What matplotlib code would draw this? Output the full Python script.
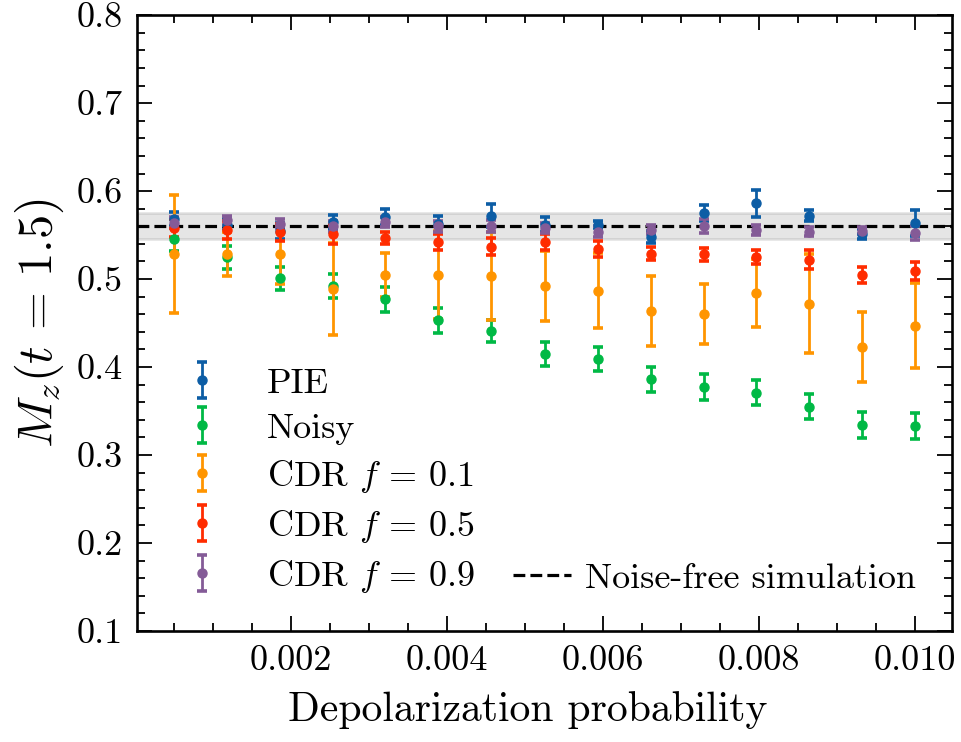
import matplotlib
matplotlib.use("Agg")
import matplotlib.pyplot as plt
from matplotlib.ticker import MultipleLocator, FormatStrFormatter

plt.rcParams['font.family'] = 'serif'
plt.rcParams['font.serif'] = ['cmr10']
plt.rcParams['mathtext.fontset'] = 'cm'
plt.rcParams['axes.formatter.use_mathtext'] = True
plt.rcParams['axes.unicode_minus'] = False

# Data
p_depol = [0.0005, 0.00118, 0.00186, 0.00254, 0.00321, 0.00389, 0.00457, 0.00525,
           0.00593, 0.00661, 0.00729, 0.00796, 0.00864, 0.00932, 0.0100]

pie = [0.568, 0.562, 0.555, 0.565, 0.571, 0.563, 0.572, 0.562, 0.562, 0.548, 0.575, 0.586, 0.572, 0.551, 0.564]
pie_err = [0.008, 0.006, 0.009, 0.008, 0.009, 0.009, 0.013, 0.009, 0.004, 0.007, 0.009, 0.015, 0.006, 0.006, 0.015]

noisy = [0.545, 0.525, 0.501, 0.492, 0.477, 0.453, 0.441, 0.415, 0.409, 0.386, 0.377, 0.371, 0.355, 0.334, 0.333]
noisy_err = [0.013, 0.013, 0.013, 0.0135, 0.014, 0.014, 0.013, 0.014, 0.014, 0.014, 0.015, 0.0145, 0.0145, 0.0145, 0.0145]

cdr01 = [0.529, 0.529, 0.528, 0.489, 0.505, 0.505, 0.503, 0.492, 0.487, 0.464, 0.460, 0.484, 0.472, 0.423, 0.447]
cdr01_err = [0.067, 0.025, 0.034, 0.052, 0.025, 0.050, 0.050, 0.040, 0.043, 0.040, 0.034, 0.039, 0.056, 0.040, 0.048]

cdr05 = [0.558, 0.556, 0.553, 0.551, 0.547, 0.542, 0.537, 0.542, 0.534, 0.529, 0.528, 0.525, 0.522, 0.505, 0.509]
cdr05_err = [0.010, 0.010, 0.010, 0.011, 0.007, 0.009, 0.010, 0.009, 0.009, 0.007, 0.007, 0.008, 0.011, 0.009, 0.010]

cdr09 = [0.564, 0.567, 0.563, 0.560, 0.565, 0.560, 0.560, 0.558, 0.554, 0.556, 0.560, 0.556, 0.554, 0.555, 0.552]
cdr09_err = [0.006, 0.005, 0.005, 0.006, 0.006, 0.006, 0.007, 0.006, 0.006, 0.005, 0.008, 0.006, 0.005, 0.004, 0.008]

noise_free = 0.560
noise_free_err = 0.015

series = [
    ("PIE", pie, pie_err, '#0C5DA5'),
    ("Noisy", noisy, noisy_err, '#00B945'),
    (r"CDR $f\,=\,0.1$", cdr01, cdr01_err, '#FF9500'),
    (r"CDR $f\,=\,0.5$", cdr05, cdr05_err, '#FF2C00'),
    (r"CDR $f\,=\,0.9$", cdr09, cdr09_err, '#845B97'),
]

fig = plt.figure(figsize=(9.61, 7.42), dpi=100)
ax = fig.add_axes([0.1426, 0.1496, 0.848, 0.830])

ax.axhspan(noise_free - noise_free_err, noise_free + noise_free_err,
           facecolor='gray', edgecolor='gray', alpha=0.2, lw=2)
line, = ax.plot([0, 1], [noise_free, noise_free], transform=ax.get_yaxis_transform(),
                color='black', ls='--', lw=2.3, label="Noise-free simulation", zorder=3)

handles = []
for name, vals, errs, col in series:
    h = ax.errorbar(p_depol, vals, yerr=errs, fmt='o', color=col, ms=6.5,
                    elinewidth=2, capsize=3.4, capthick=2.6, label=name, zorder=4)
    handles.append(h)

ax.set_ylim(0.1, 0.8)
ax.set_xlim(0.000025, 0.010475)
ax.set_xticks([0.002, 0.004, 0.006, 0.008, 0.010])
ax.xaxis.set_major_formatter(FormatStrFormatter('%.3f'))
ax.xaxis.set_minor_locator(MultipleLocator(0.0005))
ax.yaxis.set_major_locator(MultipleLocator(0.1))
ax.yaxis.set_major_formatter(FormatStrFormatter('%.1f'))
ax.yaxis.set_minor_locator(MultipleLocator(0.02))

ax.tick_params(which='both', direction='in', top=True, right=True, labelsize=26, width=1.3)
ax.tick_params(which='major', length=11, pad=10)
ax.tick_params(which='minor', length=6)
for sp in ax.spines.values():
    sp.set_linewidth(1.9)

ax.set_xlabel("Depolarization probability", fontsize=30)
ax.xaxis.set_label_coords(0.479, -0.098)
ax.set_ylabel(r"$M_z(t\,=\,1.5)$", fontsize=35, labelpad=8)

leg1 = ax.legend(handles=handles, loc='lower left', fontsize=26, frameon=False,
                 handlelength=1.6, handletextpad=1.0, labelspacing=0.36,
                 borderaxespad=0.7, borderpad=0.3)
ax.add_artist(leg1)
ax.legend(handles=[line], loc='lower right', fontsize=26, frameon=False,
          handlelength=1.6, handletextpad=0.4, borderaxespad=0.7, borderpad=0.3)

fig.savefig("out.png", dpi=100)
